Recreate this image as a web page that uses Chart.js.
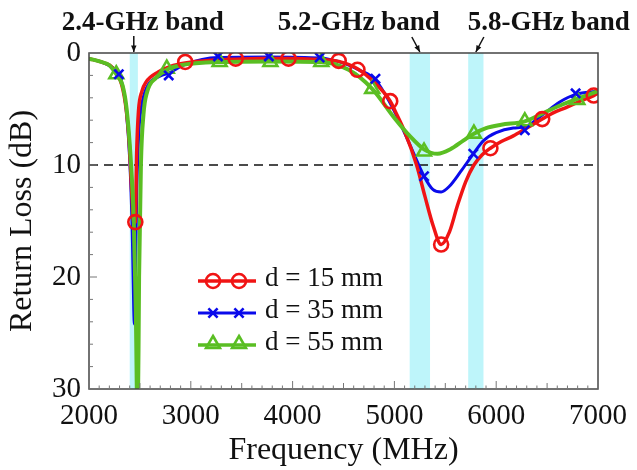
<!DOCTYPE html>
<html><head><meta charset="utf-8">
<script src="https://cdn.jsdelivr.net/npm/chart.js@4/dist/chart.umd.min.js"></script>
<style>html,body{margin:0;padding:0;background:#fff}</style>
</head><body><canvas id="c" width="637" height="470"></canvas>
<script>
// ---- data ----
const xTicks = [2000, 3000, 4000, 5000, 6000, 7000];
const yTicks = [0, 10, 20, 30];
const bandNames = ['2.4-GHz band', '5.2-GHz band', '5.8-GHz band'];
const bandStart = [2400, 5150, 5725];
const bandEnd = [2480, 5350, 5875];
const refLevel = 10;

const seriesNames = ['d = 15 mm', 'd = 35 mm', 'd = 55 mm'];

const redFreq = [2000,2120,2230,2320,2365,2395,2420,2440,2455,2468,2486,2520,2560,2680,2800,2945,3200,3441,3700,3960,4200,4453,4637,4800,4959,5008,5100,5218,5300,5380,5459,5540,5620,5700,5781,5860,5943,6050,6168,6300,6452,6570,6680,6800,6958,7000];
const redLoss = [0.5,0.8,1.3,2.8,5.0,8.0,12.5,15.2,15.1,9.0,5.2,3.4,2.6,1.7,1.2,0.9,0.65,0.55,0.5,0.5,0.55,0.75,1.4,2.6,4.3,5.2,7.0,10.0,12.8,15.4,17.1,16.0,13.6,11.5,10.0,9.1,8.5,7.9,7.4,6.7,5.9,5.3,4.9,4.4,3.8,3.6];
const redMarkFreq = [2455,2945,3441,3960,4453,4637,4959,5459,5943,6452,6958];
const redMarkLoss = [15.1,0.8,0.5,0.5,0.7,1.5,4.3,17.1,8.5,5.9,3.8];

const blueFreq = [2000,2120,2230,2293,2330,2365,2400,2425,2440,2446,2455,2470,2490,2515,2560,2690,2783,2950,3267,3767,4266,4500,4650,4814,5000,5162,5291,5380,5459,5540,5650,5775,5878,6000,6168,6281,6458,6620,6780,7000];
const blueLoss = [0.5,0.8,1.3,1.9,2.9,5.0,9.5,16,23,24.2,20,12,7,4.8,3.2,2.1,1.8,1.0,0.4,0.35,0.45,0.9,1.5,2.4,5.2,8.4,11.0,12.2,12.4,11.9,10.6,9.0,7.8,7.1,6.7,6.6,5.5,4.4,3.7,3.4];
const blueMarkFreq = [2293,2783,3267,3767,4266,4814,5291,5775,6281,6780];
const blueMarkLoss = [1.9,2.0,0.3,0.3,0.4,2.3,11.0,9.0,6.9,3.6];

const greenFreq = [2000,2120,2200,2268,2330,2370,2410,2440,2460,2478,2492,2510,2535,2570,2660,2764,2900,3283,3782,4282,4550,4782,5000,5150,5291,5424,5550,5680,5781,5900,6050,6281,6500,6650,6797,7000];
const greenLoss = [0.5,0.8,1.1,1.9,2.9,5.0,9.5,15,23,34,20,10,5.5,3.5,2.2,1.5,1.1,0.8,0.75,0.8,1.5,3.2,5.8,7.4,8.6,9.0,8.6,7.8,7.2,6.7,6.4,6.1,5.2,4.6,4.1,3.4];
const greenMarkFreq = [2268,2764,3283,3782,4282,4782,5291,5781,6281,6797];
const greenMarkLoss = [1.9,1.4,0.8,0.8,0.8,3.2,8.8,7.2,6.1,4.2];

// ---- styles ----
const RED = 'rgb(240,20,20)', BLUE = 'rgb(10,10,235)', GREEN = 'rgb(90,190,35)';
const BAND = 'rgb(190,245,250)';
const SERIF = '"Liberation Serif", "Times New Roman", serif';

const pts = (xs, ys) => xs.map((x, i) => ({x, y: ys[i]}));

function curve(label, xs, ys, color, w, order) {
  return {label, data: pts(xs, ys), showLine: true, borderColor: color, borderWidth: w,
    pointRadius: 0, cubicInterpolationMode: 'monotone', fill: false, order};
}
function marks(label, xs, ys, color, style, r, order) {
  return {label, data: pts(xs, ys), showLine: false, borderColor: color, backgroundColor: 'rgba(0,0,0,0)',
    pointStyle: style, pointRadius: r, pointBorderWidth: 2.6, order};
}

const legendStyles = [
  {color: RED, style: 'circle', r: 7, w: 3.5},
  {color: BLUE, style: 'crossRot', r: 6.5, w: 3},
  {color: GREEN, style: 'triangle', r: 8, w: 3.5}
];

const decor = {
  id: 'decor',
  beforeDatasetsDraw(chart) {
    const {ctx, chartArea: a, scales: {x, y}} = chart;
    ctx.save();
    ctx.fillStyle = BAND;
    for (let i = 0; i < bandStart.length; i++) {
      const x0 = x.getPixelForValue(bandStart[i]), x1 = x.getPixelForValue(bandEnd[i]);
      ctx.fillRect(x0, a.top, x1 - x0, a.bottom - a.top);
    }
    ctx.strokeStyle = '#111'; ctx.lineWidth = 1.6; ctx.setLineDash([9, 6]);
    const yr = y.getPixelForValue(refLevel);
    ctx.beginPath(); ctx.moveTo(a.left, yr); ctx.lineTo(a.right, yr); ctx.stroke();
    ctx.restore();
  },
  afterDatasetsDraw(chart) {
    const {ctx, chartArea: a, scales: {x, y}} = chart;
    ctx.save();
    // legend
    const lx0 = 198, lx1 = 256, rows = [281, 313, 345];
    for (let i = 0; i < 3; i++) {
      const s = legendStyles[i];
      ctx.strokeStyle = s.color; ctx.lineWidth = s.w; ctx.setLineDash([]);
      ctx.beginPath(); ctx.moveTo(lx0, rows[i]); ctx.lineTo(lx1, rows[i]); ctx.stroke();
      ctx.fillStyle = 'rgba(0,0,0,0)'; ctx.lineWidth = 2.6;
      for (const mx of [213, 239]) {
        Chart.helpers.drawPoint(ctx, {pointStyle: s.style, radius: s.r, borderWidth: 2.6}, mx, rows[i] - (i === 2 ? 1 : 0));
      }
      ctx.fillStyle = '#111'; ctx.font = '27px ' + SERIF; ctx.textBaseline = 'middle'; ctx.textAlign = 'left';
      ctx.fillText(seriesNames[i], 265, rows[i] - 2);
    }
    // frame
    ctx.strokeStyle = '#444'; ctx.lineWidth = 1.5;
    ctx.strokeRect(a.left, a.top, a.right - a.left, a.bottom - a.top);
    // inside ticks
    ctx.strokeStyle = '#777'; ctx.lineWidth = 1;
    ctx.beginPath();
    for (let v = 2000; v <= 7000; v += 100) {
      const px = x.getPixelForValue(v);
      const len = v % 1000 === 0 ? 8 : (v % 500 === 0 ? 6 : 3.5);
      ctx.moveTo(px, a.bottom); ctx.lineTo(px, a.bottom - len);
    }
    for (let v = 0; v <= 30; v += 2) {
      const py = y.getPixelForValue(v);
      const len = v % 10 === 0 ? 8 : 4;
      ctx.moveTo(a.left, py); ctx.lineTo(a.left + len, py);
    }
    ctx.stroke();
    // band labels and arrows
    ctx.fillStyle = '#111'; ctx.font = 'bold 27px ' + SERIF; ctx.textAlign = 'center'; ctx.textBaseline = 'middle';
    const c = bandStart.map((s, i) => x.getPixelForValue((s + bandEnd[i]) / 2));
    const lblX = [c[0] + 9, c[1] - 61, c[2] + 73];
    for (let i = 0; i < 3; i++) ctx.fillText(bandNames[i], lblX[i], 23);
    const arrows = [[c[0], 36, c[0], 52], [c[1] - 8, 37, c[1], 52], [c[2] + 8, 37, c[2], 52]];
    ctx.strokeStyle = '#111'; ctx.lineWidth = 1.5;
    for (const [x0, y0, x1, y1] of arrows) {
      ctx.beginPath(); ctx.moveTo(x0, y0); ctx.lineTo(x1, y1); ctx.stroke();
      const ang = Math.atan2(y1 - y0, x1 - x0), h = 7;
      ctx.beginPath(); ctx.moveTo(x1, y1);
      ctx.lineTo(x1 - h * Math.cos(ang - 0.4), y1 - h * Math.sin(ang - 0.4));
      ctx.lineTo(x1 - h * Math.cos(ang + 0.4), y1 - h * Math.sin(ang + 0.4));
      ctx.closePath(); ctx.fill();
    }
    ctx.restore();
  }
};

new Chart(document.getElementById('c'), {
  type: 'scatter',
  data: {datasets: [
    curve(seriesNames[0], redFreq, redLoss, RED, 3.5, 2),
    curve(seriesNames[1], blueFreq, blueLoss, BLUE, 3, 3),
    curve(seriesNames[2], greenFreq, greenLoss, GREEN, 4, 1),
    marks(seriesNames[0], redMarkFreq, redMarkLoss, RED, 'circle', 7, 0),
    marks(seriesNames[1], blueMarkFreq, blueMarkLoss, BLUE, 'crossRot', 6.5, 0),
    marks(seriesNames[2], greenMarkFreq, greenMarkLoss, GREEN, 'triangle', 8, 0)
  ]},
  plugins: [decor],
  options: {
    responsive: false, animation: false,
    layout: {padding: {top: 53, right: 31, left: 0, bottom: 0}},
    plugins: {legend: {display: false}, tooltip: {enabled: false}},
    scales: {
      x: {type: 'linear', min: 2000, max: 7000,
        afterBuildTicks: s => { s.ticks = xTicks.map(v => ({value: v})); },
        afterFit: s => { s.height = 81; },
        grid: {display: false, drawTicks: false}, border: {display: false},
        ticks: {font: {family: SERIF, size: 29}, color: '#111', padding: 10, maxRotation: 0, callback: v => String(v)},
        title: {display: true, text: 'Frequency (MHz)', font: {family: SERIF, size: 32}, color: '#111', padding: {top: 0, bottom: 0}}
      },
      y: {type: 'linear', min: 0, max: 30, reverse: true,
        afterBuildTicks: s => { s.ticks = yTicks.map(v => ({value: v})); },
        afterFit: s => { s.width = 89; },
        grid: {display: false, drawTicks: false}, border: {display: false},
        ticks: {font: {family: SERIF, size: 29}, color: '#111', padding: 8, callback: v => String(v)},
        title: {display: true, text: 'Return Loss (dB)', font: {family: SERIF, size: 32}, color: '#111', padding: {top: 3, bottom: 0}}
      }
    }
  }
});
</script></body></html>
